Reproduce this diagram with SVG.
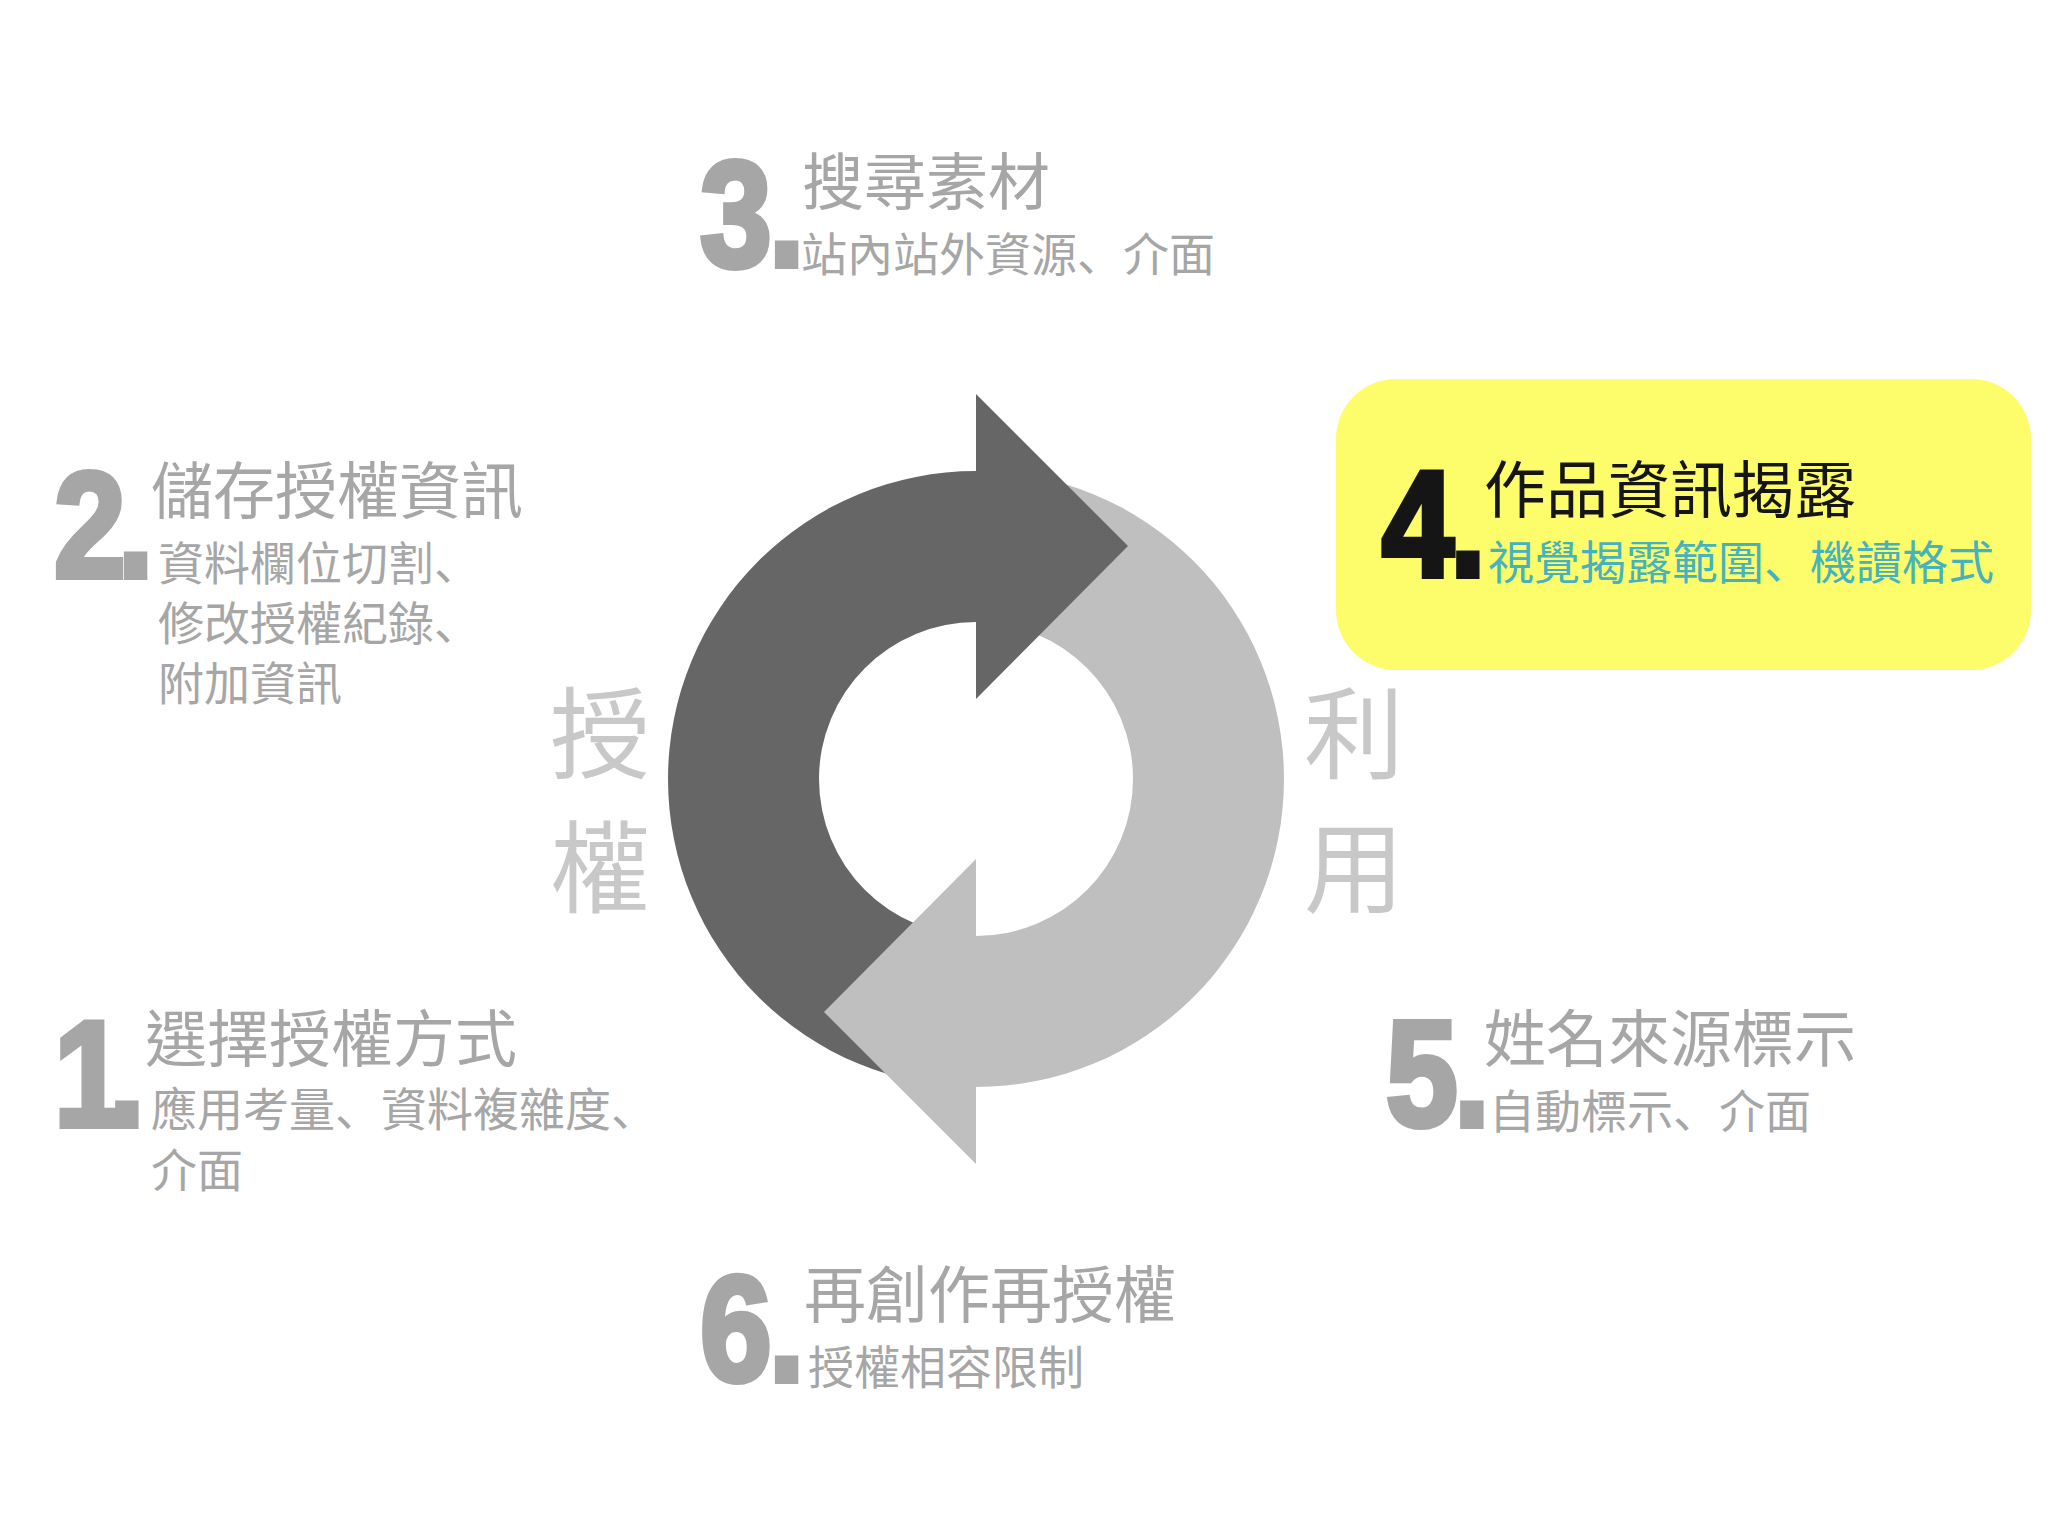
<svg xmlns="http://www.w3.org/2000/svg" width="2048" height="1535" viewBox="0 0 2048 1535">
  <style>
    .num { font-family: "Liberation Sans", Arial, sans-serif; font-weight: bold; font-size: 150px; fill: #a6a6a6; stroke: #a6a6a6; stroke-width: 6; stroke-linejoin: miter; }
    .num.dark { fill: #151515; stroke: #151515; }
    .cjk { font-family: "Liberation Sans", "Noto Sans CJK TC", sans-serif; fill: #a6a6a6; }
    .p { font-family: "Liberation Sans", "Noto Sans CJK SC", sans-serif; }
    .title { font-size: 62px; }
    .sub { font-size: 46px; }
    .side { font-size: 100px; fill: #c8c8c8; text-anchor: middle; }
    .black { fill: #151515; }
    .teal { fill: #45b3bd; }
  </style>
  <rect width="2048" height="1535" fill="#ffffff"/>

  <g id="cycle">
    <path d="M976,471 A308,308 0 0 0 976,1087 L976,936 A157,157 0 0 1 976,622 Z" fill="#666666"/>
    <path d="M976,471 A308,308 0 0 1 976,1087 L976,936 A157,157 0 0 0 976,622 Z" fill="#bfbfbf"/>
    <path d="M976,394 L1128,546 L976,699 Z" fill="#666666"/>
    <path d="M976,1164 L824,1012 L976,859 Z" fill="#bfbfbf"/>
  </g>

  <g id="side-labels">
    <text class="cjk side" x="600" y="771">授</text>
    <text class="cjk side" x="600" y="905">權</text>
    <text class="cjk side" x="1354" y="771">利</text>
    <text class="cjk side" x="1354" y="905">用</text>
  </g>

  <g id="step3">
    <text class="num" transform="translate(700,266) scale(0.86,1)">3<tspan x="80">.</tspan></text>
    <text class="cjk title" x="802" y="205">搜尋素材</text>
    <text class="cjk sub" x="801" y="271">站內站外資源<tspan class="p">、</tspan>介面</text>
  </g>

  <g id="step2">
    <text class="num" transform="translate(54,577) scale(0.86,1)">2<tspan x="74">.</tspan></text>
    <text class="cjk title" x="151" y="514">儲存授權資訊</text>
    <text class="cjk sub" x="158" y="580">資料欄位切割<tspan class="p">、</tspan></text>
    <text class="cjk sub" x="158" y="640">修改授權紀錄<tspan class="p">、</tspan></text>
    <text class="cjk sub" x="158" y="700">附加資訊</text>
  </g>

  <g id="step4">
    <rect x="1336" y="379" width="695" height="291" rx="60" ry="60" fill="#fdfc6a"/>
    <text class="num dark" transform="translate(1382,576) scale(0.86,1)">4<tspan x="79">.</tspan></text>
    <text class="cjk title black" x="1484" y="513">作品資訊揭露</text>
    <text class="cjk sub teal" x="1488" y="579">視覺揭露範圍<tspan class="p">、</tspan>機讀格式</text>
  </g>

  <g id="step1">
    <text class="num" transform="translate(54,1126) scale(0.86,1)">1<tspan x="64">.</tspan></text>
    <text class="cjk title" x="145" y="1062">選擇授權方式</text>
    <text class="cjk sub" x="151" y="1126">應用考量<tspan class="p">、</tspan>資料複雜度<tspan class="p">、</tspan></text>
    <text class="cjk sub" x="151" y="1187">介面</text>
  </g>

  <g id="step5">
    <text class="num" transform="translate(1386,1126) scale(0.86,1)">5<tspan x="79">.</tspan></text>
    <text class="cjk title" x="1484" y="1062">姓名來源標示</text>
    <text class="cjk sub" x="1489" y="1128">自動標示<tspan class="p">、</tspan>介面</text>
  </g>

  <g id="step6">
    <text class="num" transform="translate(700,1381) scale(0.86,1)">6<tspan x="80">.</tspan></text>
    <text class="cjk title" x="804" y="1318">再創作再授權</text>
    <text class="cjk sub" x="808" y="1384">授權相容限制</text>
  </g>
</svg>
